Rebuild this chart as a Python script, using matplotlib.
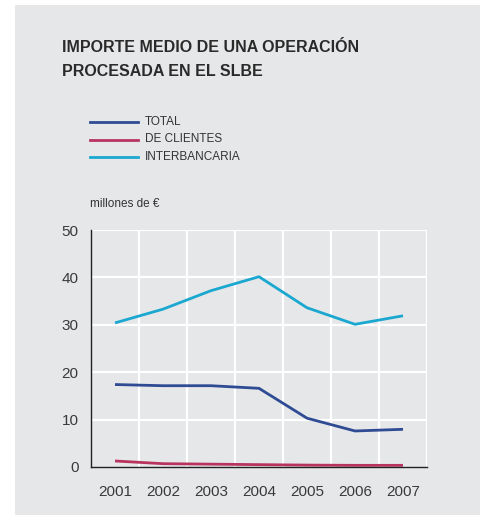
import matplotlib
matplotlib.use("Agg")
import matplotlib.pyplot as plt
from matplotlib.patches import Rectangle

plt.rcParams["font.family"] = ["Liberation Sans", "DejaVu Sans"]

years = ["2001", "2002", "2003", "2004", "2005", "2006", "2007"]
total = [17.4, 17.15, 17.15, 16.6, 10.3, 7.6, 7.95]
clientes = [1.27, 0.7, 0.6, 0.5, 0.4, 0.35, 0.35]
interbancaria = [30.4, 33.3, 37.2, 40.15, 33.6, 30.1, 31.9]

series = [
    ("TOTAL", total, "#2f4b94"),
    ("DE CLIENTES", clientes, "#b8345f"),
    ("INTERBANCARIA", interbancaria, "#1ba8d0"),
]

W, H = 480, 516
BG = "#e6e7e9"

fig = plt.figure(figsize=(W / 100, H / 100), dpi=100, facecolor="white")
fig.patches.append(Rectangle((15 / W, 1 / H), 1 - 15 / W, 1 - 6 / H,
                             transform=fig.transFigure, facecolor=BG,
                             edgecolor="none", zorder=-10))

ax = fig.add_axes([91 / W, 1 - 467 / H, 336 / W, 237 / H])
ax.set_facecolor(BG)

x = list(range(len(years)))
for name, vals, color in series:
    ax.plot(x, vals, color=color, lw=2.0, solid_capstyle="butt", zorder=3)

ax.set_xlim(-0.5, len(years) - 0.5)
ax.set_ylim(0, 50)
ax.set_yticks([0, 10, 20, 30, 40, 50])
ax.set_xticks(x)
ax.set_xticklabels(years)
for gx in [i + 0.5 for i in x]:
    ax.axvline(gx, color="white", lw=1.6, zorder=1)
for gy in [10, 20, 30, 40, 50]:
    ax.axhline(gy, color="white", lw=1.6, zorder=1)

for side in ["top", "right"]:
    ax.spines[side].set_visible(False)
for side in ["left", "bottom"]:
    ax.spines[side].set_color("#222222")
    ax.spines[side].set_linewidth(1.0)
    ax.spines[side].set_zorder(4)
ax.tick_params(length=0, labelsize=11, colors="#3a3a3a")
ax.tick_params(axis="x", pad=13)
ax.tick_params(axis="y", pad=9)

fig.text(62 / W, 1 - 48 / H, "IMPORTE MEDIO DE UNA OPERACIÓN", fontsize=11.5,
         fontweight="bold", color="#2a2a2a", va="center", ha="left")
fig.text(62 / W, 1 - 71 / H, "PROCESADA EN EL SLBE", fontsize=11.5,
         fontweight="bold", color="#2a2a2a", va="center", ha="left")

for i, (name, vals, color) in enumerate(series):
    yy = 1 - (122 + 17.5 * i) / H
    fig.add_artist(plt.Line2D([90 / W, 138 / W], [yy, yy], color=color, lw=2.0,
                              transform=fig.transFigure))
    fig.text(145 / W, yy, name, fontsize=8.5, color="#333333", va="center", ha="left")

fig.text(90 / W, 1 - 204 / H, "millones de €", fontsize=8.5, color="#333333",
         va="center", ha="left")

fig.savefig("out.png", dpi=100, facecolor="white")
